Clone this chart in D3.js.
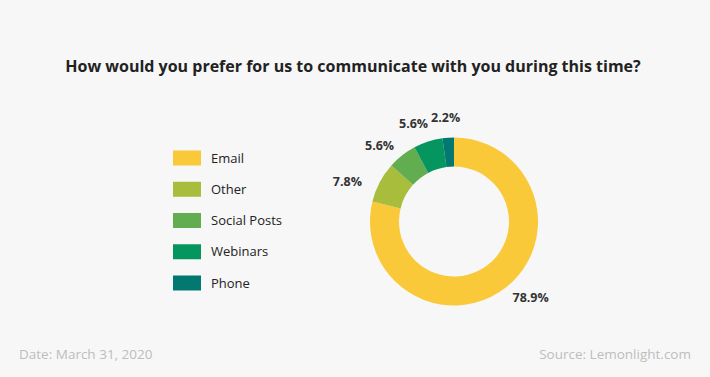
<!DOCTYPE html>
<html>
<head>
<meta charset="utf-8">
<script src="https://cdn.jsdelivr.net/npm/d3@7"></script>
<style>
  body { margin: 0; background: #f7f7f7; }
  svg { display: block; font-family: "Open Sans", Lato, sans-serif; }
</style>
</head>
<body>
<div id="chart"></div>
<script>
// Chart data
const categories = ["Email", "Other", "Social Posts", "Webinars", "Phone"];
const values = [78.9, 7.8, 5.6, 5.6, 2.2];
const colors = ["#f9c93a", "#a9bd3c", "#62ad4f", "#05955e", "#037870"];

const width = 710, height = 377;

const svg = d3.select("#chart")
    .append("svg")
    .attr("width", width)
    .attr("height", height);

svg.append("rect")
    .attr("width", width)
    .attr("height", height)
    .attr("fill", "#f7f7f7");

// Title
svg.append("text")
    .attr("x", 353)
    .attr("y", 72)
    .attr("text-anchor", "middle")
    .attr("font-size", 16)
    .attr("font-weight", 700)
    .attr("fill", "#222")
    .text("How would you prefer for us to communicate with you during this time?");

// Donut
const cx = 454, cy = 221.5;
const outerR = 84, innerR = 55;

const pie = d3.pie().sort(null).value(d => d)(values);
const arc = d3.arc().innerRadius(innerR).outerRadius(outerR);

const g = svg.append("g").attr("transform", `translate(${cx},${cy})`);

g.selectAll("path")
    .data(pie)
    .enter()
    .append("path")
    .attr("d", arc)
    .attr("fill", (d, i) => colors[i]);

// Labels: placed outside the ring (flatter at the sides), then de-overlapped
const labels = g.selectAll("text")
    .data(pie)
    .enter()
    .append("text")
    .attr("text-anchor", "middle")
    .attr("dy", "0.35em")
    .attr("font-size", 12.5)
    .attr("font-weight", 700)
    .attr("fill", "#333")
    .text(d => d.data.toFixed(1) + "%");

const boxes = [];
labels.each(function(d) {
    const bb = this.getBBox();
    const a = (d.startAngle + d.endAngle) / 2;
    const s = Math.sin(a), c = Math.cos(a);
    boxes.push({
        node: this, a, w: bb.width, h: 12,
        x: (106 + bb.width / 2) * s,
        y: -(71 * c + 33 * c * Math.abs(c))
    });
});

// left side labels, from the top going down: slide left if they collide
const left = boxes.filter(b => Math.sin(b.a) < 0).sort((p, q) => q.a - p.a);
for (let i = 1; i < left.length; i++) {
    const prev = left[i - 1], cur = left[i];
    const vOverlap = Math.abs(cur.y - prev.y) < (cur.h + prev.h) / 2;
    const hOverlap = (cur.x + cur.w / 2) > (prev.x - prev.w / 2) - 3;
    if (vOverlap && hOverlap) cur.x = prev.x - prev.w / 2 - 3 - cur.w / 2;
}

boxes.forEach(b => d3.select(b.node).attr("transform", `translate(${b.x},${b.y})`));

// Legend
const legendY = d3.scalePoint()
    .domain(categories)
    .range([158, 283]);

const legend = svg.append("g");

legend.selectAll("rect")
    .data(categories)
    .enter()
    .append("rect")
    .attr("x", 173)
    .attr("y", d => legendY(d) - 7.5)
    .attr("width", 28)
    .attr("height", 15)
    .attr("fill", (d, i) => colors[i]);

legend.selectAll("text")
    .data(categories)
    .enter()
    .append("text")
    .attr("x", 211)
    .attr("y", d => legendY(d))
    .attr("dy", "0.35em")
    .attr("font-size", 13)
    .attr("fill", "#222")
    .text(d => d);

// Footer
svg.append("text")
    .attr("x", 19)
    .attr("y", 359)
    .attr("font-size", 13.5)
    .attr("fill", "#bdbdbd")
    .text("Date: March 31, 2020");

svg.append("text")
    .attr("x", 691)
    .attr("y", 359)
    .attr("text-anchor", "end")
    .attr("font-size", 13.5)
    .attr("fill", "#bdbdbd")
    .text("Source: Lemonlight.com");
</script>
</body>
</html>
